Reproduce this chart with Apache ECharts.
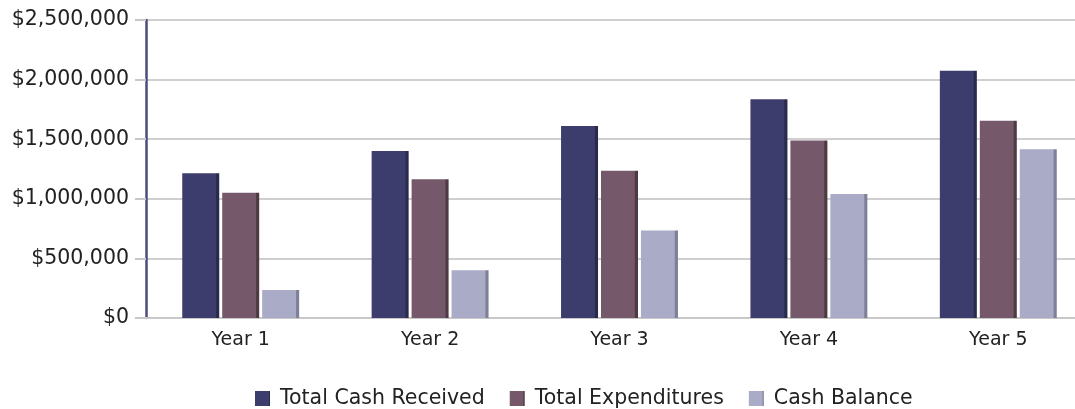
<!DOCTYPE html>
<html>
<head>
<meta charset="utf-8">
<script src="https://cdn.jsdelivr.net/npm/echarts@6/dist/echarts.min.js"></script>
<style>html,body{margin:0;padding:0;background:#fff;overflow:hidden;width:1075px;height:409px;}#c{width:1093px;height:409px;}</style>
</head>
<body>
<div id="c"></div>
<script>
const categories = ['Year 1', 'Year 2', 'Year 3', 'Year 4', 'Year 5'];
const totalCashReceived = [1215000, 1400000, 1610000, 1835000, 2075000];
const totalExpenditures = [1050000, 1165000, 1235000, 1490000, 1655000];
const cashBalance = [235000, 400000, 735000, 1040000, 1415000];
const seriesNames = ['Total Cash Received', 'Total Expenditures', 'Cash Balance'];
const yTicks = [0, 500000, 1000000, 1500000, 2000000, 2500000];

function shade(main, dark) {
  return {
    type: 'linear', x: 0, y: 0, x2: 1, y2: 0,
    colorStops: [
      { offset: 0, color: main },
      { offset: 0.9, color: main },
      { offset: 0.93, color: dark },
      { offset: 1, color: dark }
    ]
  };
}
const mains = ['#3d3d6d', '#75596a', '#a9abc7'];
const darks = ['#2a2a4c', '#4e3a42', '#7e8099'];
const dataSets = [totalCashReceived, totalExpenditures, cashBalance];

const chart = echarts.init(document.getElementById('c'));
chart.setOption({
  animation: false,
  color: mains,
  grid: { left: 146, right: 0, top: 20, bottom: 91 },
  legend: {
    top: 383, left: 250,
    itemWidth: 15, itemHeight: 15, itemGap: 25,
    icon: 'rect',
    textStyle: { fontFamily: 'DejaVu Sans', fontSize: 20.5, color: '#222', padding: [0, 0, 0, 5] },
    data: seriesNames
  },
  xAxis: {
    type: 'category', data: categories,
    axisLine: { show: true, lineStyle: { color: '#c8c8c8', width: 2 } },
    axisTick: { show: false },
    axisLabel: { margin: 13, fontFamily: 'DejaVu Sans', fontSize: 19, color: '#222' }
  },
  yAxis: {
    type: 'value', min: yTicks[0], max: yTicks[yTicks.length - 1], interval: 500000,
    axisLine: { show: true, onZero: false, lineStyle: { color: '#4b4b7d', width: 2.5 } },
    axisTick: { show: true, length: 11, lineStyle: { color: '#c8c8c8', width: 2 } },
    splitLine: { lineStyle: { color: '#cfcfcf', width: 2 } },
    axisLabel: {
      margin: 17, fontFamily: 'DejaVu Sans', fontSize: 20.5, color: '#222',
      formatter: v => '$' + v.toLocaleString('en-US')
    }
  },
  series: seriesNames.map((n, i) => ({
    name: n, type: 'bar', data: dataSets[i],
    barWidth: 37, barGap: '8%',
    itemStyle: { color: shade(mains[i], darks[i]) }
  }))
});
</script>
</body>
</html>
